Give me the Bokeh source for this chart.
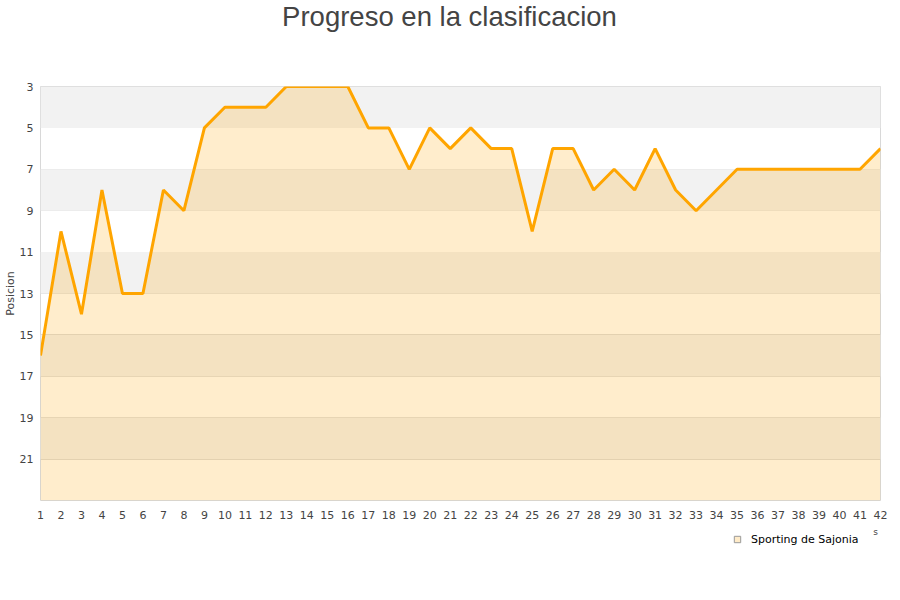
from bokeh.plotting import figure
from bokeh.layouts import column
from bokeh.models import Range1d, FixedTicker, Legend, LegendItem, Label
from bokeh.embed import file_html
from bokeh.resources import INLINE

jornadas = list(range(1, 43))
posiciones = [16, 10, 14, 8, 13, 13, 8, 9,
              5, 4, 4, 4, 3, 3, 3, 3,
              5, 5, 7, 5, 6, 5, 6, 6,
              10, 6, 6, 8, 7, 8, 6, 8,
              9, 8, 7, 7, 7, 7, 7, 7, 7, 6]
y_ticks = [3, 5, 7, 9, 11, 13, 15, 17, 19, 21]
titulo = "Progreso en la clasificacion"
equipo = "Sporting de Sajonia"
eje_y = "Posicion"
eje_x_resto = "s"
fondo = 23

# title strip (pixel-like coordinates for the text position)
t = figure(width=900, height=50, output_backend="svg", toolbar_location=None,
           x_range=Range1d(40, 880), y_range=Range1d(50, 0),
           min_border_left=40, min_border_right=20, min_border_top=0, min_border_bottom=0)
t.axis.visible = False
t.grid.grid_line_color = None
t.outline_line_color = None
t.add_layout(Label(x=449, y=16, text=titulo, text_align="center", text_baseline="middle",
                   text_font="Liberation Sans", text_font_size="27.5px",
                   text_color="#444444"))

p = figure(width=900, height=475, output_backend="svg", toolbar_location=None,
           x_range=Range1d(1, 42), y_range=Range1d(23, 3),
           min_border_left=40, min_border_right=20, min_border_top=36, min_border_bottom=25)

p.outline_line_color = "#d8d8d8"
p.xgrid.grid_line_color = None
p.ygrid.ticker = FixedTicker(ticks=y_ticks)
p.ygrid.grid_line_color = "#dcdcdc"
p.ygrid.band_fill_color = None

# alternating bands: from each even-indexed tick to the next tick
band_y = [y_ticks[i] + 1 for i in range(0, len(y_ticks), 2)]
p.hbar(y=band_y, height=2, left=jornadas[0], right=jornadas[-1],
       fill_color="#f2f2f2", line_color=None)

p.varea(x=jornadas, y1=posiciones, y2=[fondo] * len(jornadas),
        fill_color="#ffa500", fill_alpha=0.2)
p.line(jornadas, posiciones, line_color="#ffa500", line_width=3)

for ax in (p.xaxis[0], p.yaxis[0]):
    ax.axis_line_color = None
    ax.major_tick_line_color = None
    ax.minor_tick_line_color = None
    ax.major_tick_out = 0
    ax.major_tick_in = 0
    ax.minor_tick_out = 0
    ax.minor_tick_in = 0
    ax.major_label_text_font = "DejaVu Sans"
    ax.major_label_text_font_size = "11px"
    ax.major_label_text_color = "#444444"

p.xaxis.ticker = FixedTicker(ticks=jornadas)
p.xaxis.major_label_standoff = 10
p.yaxis.ticker = FixedTicker(ticks=y_ticks)
p.yaxis.major_label_standoff = 7
p.yaxis.axis_label = eje_y
p.yaxis.axis_label_text_font = "DejaVu Sans"
p.yaxis.axis_label_text_font_size = "11px"
p.yaxis.axis_label_text_font_style = "normal"
p.yaxis.axis_label_text_color = "#444444"
p.yaxis.axis_label_standoff = 0

q = figure(width=900, height=75, output_backend="svg", toolbar_location=None,
           x_range=Range1d(40, 880), y_range=Range1d(75, 0),
           min_border_left=40, min_border_right=20, min_border_top=0, min_border_bottom=0)
q.axis.visible = False
q.grid.grid_line_color = None
q.outline_line_color = None
dummy = q.scatter([-100], [-100], marker="square", size=8, fill_color="#ffebc8", line_color="#999999")
legend = Legend(items=[LegendItem(label=equipo, renderers=[dummy])],
                location=(689, 53), orientation="horizontal",
                border_line_color=None, background_fill_alpha=0,
                label_text_font="DejaVu Sans", label_text_font_size="11px",
                label_text_color="#000000", glyph_width=16, glyph_height=16,
                label_standoff=6, margin=0, padding=4)
q.add_layout(legend, "center")
q.add_layout(Label(x=875, y=6, text=eje_x_resto, text_align="center", text_baseline="middle",
                   text_font="DejaVu Sans", text_font_size="9px", text_color="#444444"))

layout = column(t, p, q, spacing=0)
open("out.html", "w").write(file_html(layout, INLINE))
